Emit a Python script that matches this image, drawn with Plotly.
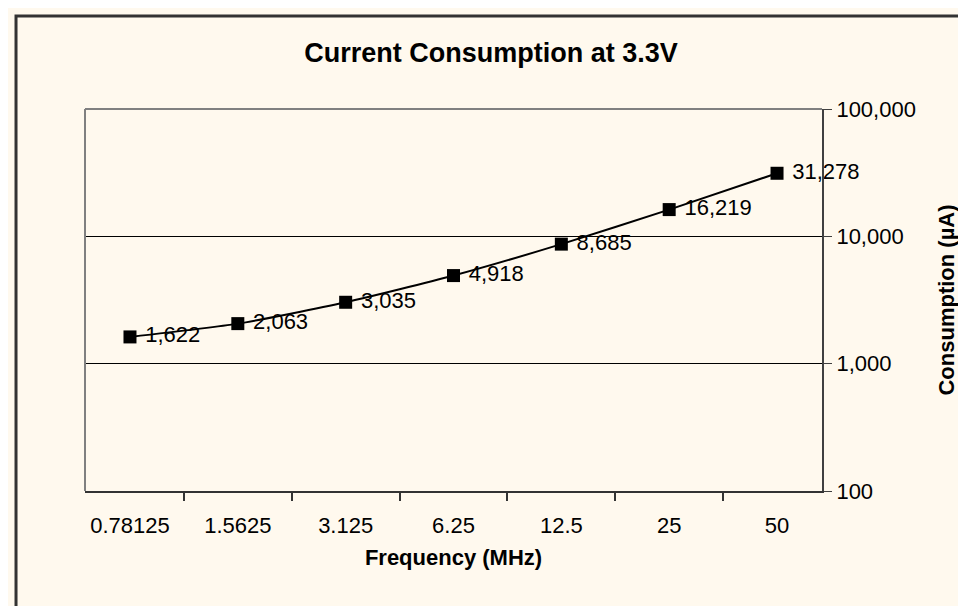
import plotly.graph_objects as go

freq_mhz = ["0.78125", "1.5625", "3.125", "6.25", "12.5", "25", "50"]
current_ua = [1622, 2063, 3035, 4918, 8685, 16219, 31278]
y_ticks = [100, 1000, 10000, 100000]
y_tick_text = ["100", "1,000", "10,000", "100,000"]

FONT = "Arial, Liberation Sans, sans-serif"
BG = "#FFF9EE"

fig = go.Figure()
fig.add_trace(
    go.Scatter(
        x=freq_mhz,
        y=current_ua,
        mode="lines+markers+text",
        line=dict(color="black", width=2, shape="spline", smoothing=0.6),
        marker=dict(symbol="square", size=13, color="black"),
        texttemplate=" %{y:,}",
        textposition="middle right",
        textfont=dict(family=FONT, size=22, color="black"),
        cliponaxis=False,
        showlegend=False,
    )
)

# plot area borders (grey top/left) and the outer chart frame
fig.add_shape(type="line", xref="paper", yref="paper", x0=0, x1=1, y0=1, y1=1,
              line=dict(color="#808080", width=2), layer="above")
fig.add_shape(type="line", xref="paper", yref="paper", x0=0, x1=0, y0=0, y1=1,
              line=dict(color="#808080", width=2), layer="above")
fig.add_shape(type="rect", xref="paper", yref="paper", x0=-0.0936, x1=1.25, y0=-0.36, y1=1.2435,
              line=dict(color="#333333", width=3), layer="below")

fig.update_layout(
    width=966,
    height=606,
    margin=dict(l=77, r=152, t=101, b=123),
    paper_bgcolor=BG,
    plot_bgcolor=BG,
    font=dict(family=FONT, color="black", size=22),
    title=dict(
        text="<b>Current Consumption at 3.3V</b>",
        x=0.5, xref="container", xanchor="center",
        y=1 - 45 / 606, yref="container", yanchor="middle",
        font=dict(family=FONT, size=27, color="black"),
    ),
    xaxis=dict(
        type="category",
        tickson="boundaries",
        ticks="outside",
        ticklen=8,
        tickcolor="#333333",
        tickwidth=2,
        ticklabelstandoff=14,
        showline=True,
        linecolor="#333333",
        linewidth=2,
        showgrid=False,
        zeroline=False,
        tickfont=dict(family=FONT, size=22, color="black"),
        title=dict(text="<b>Frequency (MHz)</b>", standoff=12,
                   font=dict(family=FONT, size=22, color="black")),
    ),
    yaxis=dict(
        type="log",
        range=[2, 5],
        side="right",
        tickvals=y_ticks,
        ticktext=y_tick_text,
        ticks="outside",
        ticklen=8,
        tickcolor="#404040",
        tickwidth=1,
        showline=True,
        linecolor="#404040",
        linewidth=2,
        showgrid=True,
        gridcolor="black",
        gridwidth=1,
        zeroline=False,
        tickfont=dict(family=FONT, size=22, color="black"),
        title=dict(text="<b>Consumption (µA)</b>", standoff=24,
                   font=dict(family=FONT, size=22, color="black")),
    ),
)

fig.write_html("out.html")
